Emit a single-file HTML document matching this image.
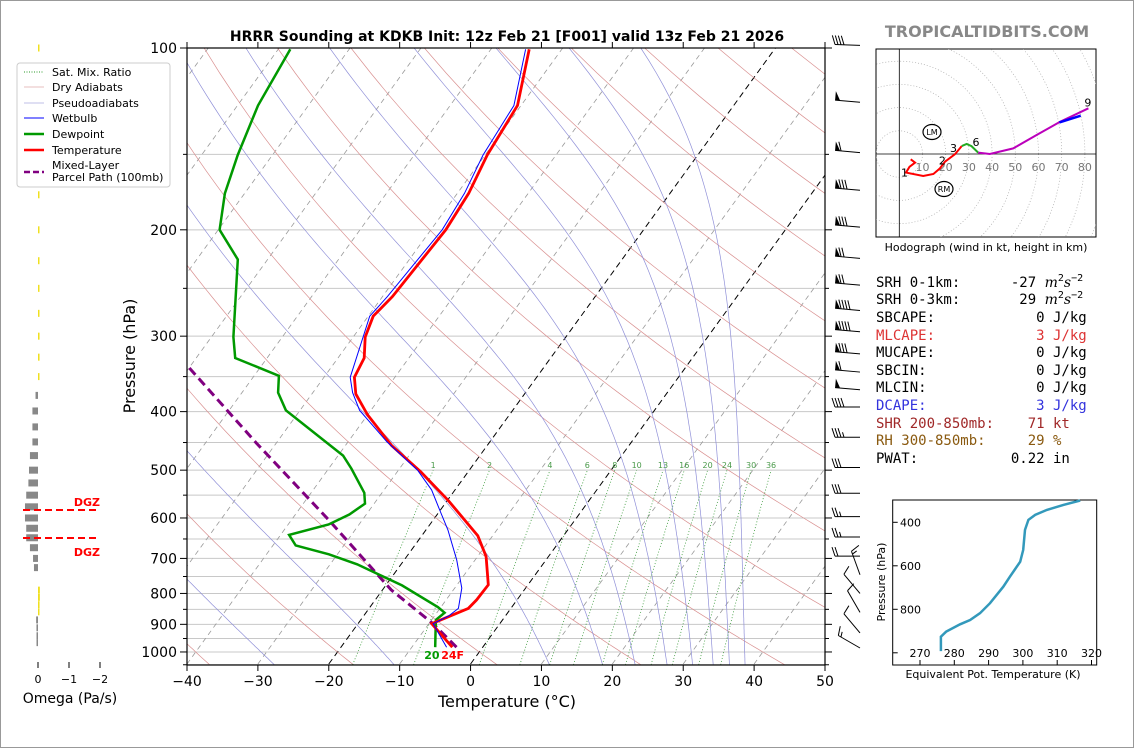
<!DOCTYPE html>
<html><head><meta charset="utf-8"><style>
body{margin:0;background:#fff;}
svg{display:block;font-family:"DejaVu Sans","Liberation Sans",sans-serif;}
.mono{font-family:"DejaVu Sans Mono","Liberation Mono",monospace;font-size:14px;}
</style></head><body>
<svg id="root" width="1134" height="748" viewBox="0 0 1134 748">
<rect x="0.5" y="0.5" width="1133" height="747" fill="#fff" stroke="#999"/>
<text x="507" y="41" text-anchor="middle" font-size="14" font-weight="bold">HRRR Sounding at KDKB Init: 12z Feb 21 [F001] valid 13z Feb 21 2026</text>
<text x="987" y="37" text-anchor="middle" font-size="16" font-weight="bold" fill="#888">TROPICALTIDBITS.COM</text>
<defs><clipPath id="plotclip"><rect x="187" y="48" width="638" height="617"/></clipPath>
<clipPath id="hodoclip"><rect x="876" y="49" width="220" height="188"/></clipPath></defs>
<g id="bg" clip-path="url(#plotclip)"></g>
<g id="prof" clip-path="url(#plotclip)"></g>
<rect x="187" y="48" width="638" height="617" fill="none" stroke="#000" stroke-width="1.2"/>
<g id="axes"></g>
<text x="507" y="707" text-anchor="middle" font-size="16">Temperature (°C)</text>
<text transform="translate(135,356) rotate(-90)" text-anchor="middle" font-size="16">Pressure (hPa)</text>
<g id="barbs" stroke="#000" stroke-width="1" fill="#000"></g>
<g id="omega"></g>
<text x="70" y="703" text-anchor="middle" font-size="14">Omega (Pa/s)</text>
<g>
<rect x="17" y="63" width="153" height="124" rx="3" fill="#fff" stroke="#ccc"/>
<line x1="24" y1="72" x2="44" y2="72" stroke="#2a9a2a" stroke-dasharray="1,1.5"/>
<text x="52" y="76" font-size="11">Sat. Mix. Ratio</text>
<line x1="24" y1="87" x2="44" y2="87" stroke="#d08080" stroke-width="0.6"/>
<text x="52" y="91" font-size="11">Dry Adiabats</text>
<line x1="24" y1="103" x2="44" y2="103" stroke="#8080d0" stroke-width="0.6"/>
<text x="52" y="107" font-size="11">Pseudoadiabats</text>
<line x1="24" y1="118" x2="44" y2="118" stroke="#0000ff" stroke-width="1"/>
<text x="52" y="122" font-size="11">Wetbulb</text>
<line x1="24" y1="134" x2="44" y2="134" stroke="#009900" stroke-width="2.5"/>
<text x="52" y="138" font-size="11">Dewpoint</text>
<line x1="24" y1="150" x2="44" y2="150" stroke="#ff0000" stroke-width="2.5"/>
<text x="52" y="154" font-size="11">Temperature</text>
<line x1="24" y1="172" x2="44" y2="172" stroke="#800080" stroke-width="2.5" stroke-dasharray="6,3"/>
<text x="52" y="169" font-size="11">Mixed-Layer</text>
<text x="52" y="181" font-size="11">Parcel Path (100mb)</text>
</g>
<g id="hodo"></g>
<text x="986" y="251" text-anchor="middle" font-size="11">Hodograph (wind in kt, height in km)</text>
<g class="mono">
<text x="876" y="287" xml:space="preserve">SRH 0-1km:      -27 <tspan font-style="italic" font-family="DejaVu Serif,serif">m</tspan><tspan font-size="10" dy="-6">2</tspan><tspan font-style="italic" dy="6" font-family="DejaVu Serif,serif">s</tspan><tspan font-size="10" dy="-6">−2</tspan></text>
<text x="876" y="304" xml:space="preserve">SRH 0-3km:       29 <tspan font-style="italic" font-family="DejaVu Serif,serif">m</tspan><tspan font-size="10" dy="-6">2</tspan><tspan font-style="italic" dy="6" font-family="DejaVu Serif,serif">s</tspan><tspan font-size="10" dy="-6">−2</tspan></text>
<text x="876" y="322" xml:space="preserve">SBCAPE:            0 J/kg</text>
<text x="876" y="340" xml:space="preserve" fill="#dd3333">MLCAPE:            3 J/kg</text>
<text x="876" y="357" xml:space="preserve">MUCAPE:            0 J/kg</text>
<text x="876" y="375" xml:space="preserve">SBCIN:             0 J/kg</text>
<text x="876" y="392" xml:space="preserve">MLCIN:             0 J/kg</text>
<text x="876" y="410" xml:space="preserve" fill="#3333dd">DCAPE:             3 J/kg</text>
<text x="876" y="428" xml:space="preserve" fill="#a02828">SHR 200-850mb:    71 kt</text>
<text x="876" y="445" xml:space="preserve" fill="#8a5a10">RH 300-850mb:     29 %</text>
<text x="876" y="463" xml:space="preserve">PWAT:           0.22 in</text>
</g>
<g id="thetae"></g>
</svg>
<script>
// ---------- sounding data ----------
const tempP = [100.5,124.5,150.4,174,200,258,278,301,326,351,374,405,455,503,561,642,695,774,820,847,898,982];
const tempT = [-54.6,-50.5,-49.7,-48.4,-47.9,-48.6,-49.3,-48.3,-46.3,-45.7,-43.8,-40,-33.5,-26.7,-19.9,-12.1,-8.8,-5.6,-5.7,-6.0,-9.6,-4.3];
const dewP = [100.5,124.5,150.4,174,200,224,301,326,349,372,398,473,497,545,568,592,615,640,666,689,716,776,843,861,885,931,982];
const dewT = [-88.3,-87.1,-84.9,-82.8,-79.8,-74.2,-66.9,-64.5,-56.5,-54.9,-52,-39.3,-36.8,-32.5,-31.3,-32.4,-34.3,-38.8,-36.8,-31.2,-26.2,-17.7,-10.4,-8.9,-9.4,-8.1,-6.7];
const wbP = [100.5,124.5,150.4,174,200,258,278,301,351,372,398,449,500,539,582,628,704,784,847,872,898,982];
const wbT = [-55.1,-51.0,-50.3,-49.0,-48.4,-49.3,-49.8,-48.6,-46.3,-44.4,-41.6,-34.5,-27.3,-23.3,-20.1,-16.9,-12.6,-9.0,-7.4,-8.0,-9.4,-5.1];
const parcelP = [982,898,789,604,451,335,250];
const parcelT = [-3.7,-9.4,-18.8,-34.8,-52.8,-70.6,-86];
const mixRatios = [1,2,4,6,8,10,13,16,20,24,30,36];
const isoTemps = [-120,-110,-100,-90,-80,-70,-60,-50,-40,-30,-20,-10,0,10,20,30,40,50];
const dryThetaC = [-40,-20,0,20,40,60,80,100,120,140,160,180,200,220,240];
const moistT1050 = [-70,-60,-50,-40,-27.6,-10.7,11.2,18.7,23.3,27.8,31.4,34.3,36.6,38.8];
const pTicks = [100,200,300,400,500,600,700,800,900,1000];
const tTicks = [-40,-30,-20,-10,0,10,20,30,40,50];
// wind barbs
const barbP = [99,123,149,172,198,223,247,272,295,321,344,368,393,441,495,546,597,645,694,745,800,860,930,985];
const barbSpd = [40,50,60,80,80,70,70,90,90,80,60,50,40,35,30,30,25,25,20,15,10,10,10,15];
const barbDir = [272,275,275,275,275,275,275,275,275,275,275,275,270,270,270,270,270,270,270,340,320,330,320,300];
// omega
const omegaP = [100,125,150,175,200,225,250,275,300,325,350,376,399,424,449,473,500,525,550,575,600,624,647,672,700,725,790,812,835,858,885,912,940,965];
const omegaV = [-0.02,-0.02,-0.02,-0.02,-0.02,-0.02,-0.02,-0.02,-0.05,-0.05,-0.03,0.08,0.18,0.18,0.18,0.26,0.29,0.31,0.38,0.42,0.42,0.38,0.38,0.26,0.16,0.13,-0.06,-0.06,-0.05,-0.04,0.06,0.05,0.04,0.03];
// hodograph
const hodoU = [4.9,6.8,4.4,2.9,10.3,14.7,17.5,19.7,24.0,26.9,29.0,31.1,34,39,49.1,59.2,69.3,81.5];
const hodoV = [-2.3,-3.7,-5.5,-8.0,-9.5,-8.6,-6.2,-3.3,-0.1,3.4,4.3,3.4,0.6,0,2.4,8.2,13.9,19.7];
const hodoSeg = [0,0,0,0,0,0,0,0,0,1,1,1,2,2,2,2,2,2];
const hodoBlueU = [69,78.2];
const hodoBlueV = [13.6,16.5];
// theta-e
const thP = [992,926,903,869,849,818,772,696,650,581,527,435,389,366,343,320,300];
const thK = [276.1,276.1,277.6,281.7,284.6,287.5,290.4,294.3,296.2,299.2,300.1,300.6,301.6,303.6,307,311.8,316.7];

const NS='http://www.w3.org/2000/svg';
function mk(tag,attrs,parent){const e=document.createElementNS(NS,tag);for(const k in attrs)e.setAttribute(k,attrs[k]);parent.appendChild(e);return e;}
const yP=p=>48+262.3*Math.log(p/100);
const xT=(T,y)=>187+(T+40)*7.0889+0.725*(664-y);
function pathFrom(ps,ts){return ps.map((p,i)=>{const y=yP(p);return (i?'L':'M')+xT(ts[i],y).toFixed(1)+','+y.toFixed(1);}).join('');}

const bg=document.getElementById('bg');
for(let p=100;p<=1050;p+=50){const y=yP(p);
 const l=mk('line',{x1:187,x2:825,y1:y,y2:y,stroke:'#c8c8c8','stroke-width':1},bg);
 
 }
isoTemps.forEach(T=>{const blk=(T===0||T===-20);
 const l=mk('line',{x1:xT(T,664),y1:664,x2:xT(T,48),y2:48,stroke:blk?'#000':'#999','stroke-width':blk?1:0.8,'stroke-dasharray':blk?'6,4':'5,4'},bg);
 
 });
dryThetaC.forEach(th=>{const thK=th+273.15;let d='';
 for(let p=1050;p>=100;p-=10){const T=thK*Math.pow(p/1000,0.2857)-273.15;const y=yP(p);d+=(d?'L':'M')+xT(T,y).toFixed(1)+','+y.toFixed(1);}
 const e=mk('path',{d:d,fill:'none',stroke:'#d99090','stroke-width':0.7},bg);
 
 });
function es(Tc){return 6.112*Math.exp(17.67*Tc/(Tc+243.5));}
moistT1050.forEach(t0=>{let T=t0+273.15;let d='';
 for(let p=1050;p>=100;p-=5){const y=yP(p);d+=(d?'L':'M')+xT(T-273.15,y).toFixed(1)+','+y.toFixed(1);
  const e=es(T-273.15);const rs=0.622*e/(p-e);
  const dTdp=(287.04*T+2.501e6*rs)/(p*(1005.7+2.501e6*2.501e6*rs*0.622/(287.04*T*T)));T-=dTdp*5;}
 const el=mk('path',{d:d,fill:'none',stroke:'#9090d8','stroke-width':0.7},bg);
 
 });
mixRatios.forEach(w=>{let d='';
 for(let p=1050;p>=500;p-=25){const e=w*p/(622+w);const L=Math.log(e/6.112);const Td=243.5*L/(17.67-L);const y=yP(p);d+=(d?'L':'M')+xT(Td,y).toFixed(1)+','+y.toFixed(1);}
 const el=mk('path',{d:d,fill:'none',stroke:'#3a9a3a','stroke-width':0.8,'stroke-dasharray':'1,2'},bg);
 
 
 const e=w*500/(622+w);const L=Math.log(e/6.112);const Td=243.5*L/(17.67-L);
 const t=mk('text',{x:xT(Td,yP(500)),y:yP(500)-2,'font-size':8,fill:'#4a9a4a','text-anchor':'middle'},bg);t.textContent=w;
 
 });
const prof=document.getElementById('prof');
let e;
e=mk('path',{d:pathFrom(parcelP,parcelT),fill:'none',stroke:'#800080','stroke-width':3,'stroke-dasharray':'9,5'},prof);


e=mk('path',{d:pathFrom(dewP,dewT),fill:'none',stroke:'#009900','stroke-width':2.5},prof);


e=mk('path',{d:pathFrom(tempP,tempT),fill:'none',stroke:'#ff0000','stroke-width':2.8},prof);


e=mk('path',{d:pathFrom(wbP,wbT),fill:'none',stroke:'#0000ff','stroke-width':1},prof);


{const yd=yP(dewP[dewP.length-1]);const xd=xT(dewT[dewT.length-1],yd);
 const t1=mk('text',{x:xd-11,y:yd+12,'font-size':11,'font-weight':'bold',fill:'#009900'},document.getElementById('root'));t1.textContent='20';
 
 
 const yt=yP(tempP[tempP.length-1]);const xt=xT(tempT[tempT.length-1],yt);
 const t2=mk('text',{x:xt-11,y:yt+12,'font-size':11,'font-weight':'bold',fill:'#ff0000'},document.getElementById('root'));t2.textContent='24F';
 
 }
const ax=document.getElementById('axes');
for(let p=100;p<=1050;p+=50){const y=yP(p);const maj=pTicks.includes(p);
 mk('line',{x1:maj?180:183,x2:187,y1:y,y2:y,stroke:'#000'},ax);
 mk('line',{x1:825,x2:maj?832:829,y1:y,y2:y,stroke:'#000'},ax);}
pTicks.forEach(p=>{const t=mk('text',{x:177,y:yP(p)+5,'font-size':14,'text-anchor':'end'},ax);t.textContent=p;
 
 });
tTicks.forEach(T=>{const x=187+(T+40)*7.0889;mk('line',{x1:x,x2:x,y1:665,y2:671,stroke:'#000'},ax);mk('line',{x1:x,x2:x,y1:42,y2:48,stroke:'#000'},ax);
 const t=mk('text',{x:x,y:686,'font-size':14,'text-anchor':'middle'},ax);t.textContent=(T<0?'−':'')+Math.abs(T);
 
 });
const bg2=document.getElementById('barbs');
barbP.forEach((p,i)=>{const y=yP(p);const bx=860;const a=barbDir[i]*Math.PI/180;
 const dx=Math.sin(a),dy=-Math.cos(a);const px=-dy,py=dx;const L=25;
 const tx=bx+dx*L,ty=y+dy*L;const g=mk('g',{},bg2);
 
 
 mk('line',{x1:bx,y1:y,x2:tx,y2:ty},g);
 let s=Math.round(barbSpd[i]/5)*5;let pos=0;
 while(s>=50){const x0=tx-dx*pos,y0=ty-dy*pos;const x1=tx-dx*(pos+5),y1=ty-dy*(pos+5);
  mk('polygon',{points:`${x0},${y0} ${x1},${y1} ${x0+px*9},${y0+py*9}`,stroke:'none'},g);pos+=6;s-=50;}
 while(s>=10){const x0=tx-dx*pos,y0=ty-dy*pos;mk('line',{x1:x0,y1:y0,x2:x0+px*9+dx*3,y2:y0+py*9+dy*3},g);pos+=3;s-=10;}
 if(s>=5){if(pos===0)pos=3;const x0=tx-dx*pos,y0=ty-dy*pos;mk('line',{x1:x0,y1:y0,x2:x0+px*5+dx*1.5,y2:y0+py*5+dy*1.5},g);}
});
const om=document.getElementById('omega');
[0,-1,-2].forEach(v=>{const x=38-v*31;mk('line',{x1:x,x2:x,y1:662,y2:668,stroke:'#000'},om);
 const t=mk('text',{x:x,y:683,'font-size':11,'text-anchor':'middle'},om);t.textContent=v===0?'0':'−'+Math.abs(v);
 
 });
omegaP.forEach((p,i)=>{const y=yP(p);const v=omegaV[i];const w=Math.max(1.5,Math.abs(v)*31);
 const r=mk('rect',{x:v>0?38-w:38,y:y-3.5,width:w,height:7,fill:v>0?'#888':'#f0e020'},om);
 
 });
[[510,502,'dgz-upper'],[538,552,'dgz-lower']].forEach(([y,ty,n])=>{
 const l=mk('line',{x1:23,x2:100,y1:y,y2:y,stroke:'#ff0000','stroke-width':2,'stroke-dasharray':'7,4'},om);
 
 
 const t=mk('text',{x:100,y:ty+4,'font-size':11,'font-weight':'bold',fill:'#ff0000','text-anchor':'end'},om);t.textContent='DGZ';
 
 });
const ho=document.getElementById('hodo');
const ox=899.3,oy=154,ks=2.32;
const hx=u=>ox+u*ks,hy=v=>oy-v*ks;
mk('rect',{x:876,y:49,width:220,height:188,fill:'#fff',stroke:'#000'},ho);
const hc=mk('g',{'clip-path':'url(#hodoclip)'},ho);
for(let r=10;r<=110;r+=10){mk('circle',{cx:ox,cy:oy,r:r*ks,fill:'none',stroke:'#aaa','stroke-width':0.7,'stroke-dasharray':'1,2'},hc);}
mk('line',{x1:ox,x2:ox,y1:49,y2:237,stroke:'#000','stroke-width':0.8},hc);
mk('line',{x1:876,x2:1096,y1:oy,y2:oy,stroke:'#000','stroke-width':0.8},hc);
for(let r=10;r<=80;r+=10){const t=mk('text',{x:hx(r),y:oy+17,'font-size':11,fill:'#777','text-anchor':'middle'},hc);t.textContent=r;
 
 }
const segCol=['#ff0000','#22aa22','#bb00bb'];
for(let s=0;s<3;s++){
 const idx=hodoU.map((u,i)=>i).filter(i=>hodoSeg[i]===s);
 let pts=idx.slice();const nxt=idx[idx.length-1]+1;if(nxt<hodoU.length)pts.push(nxt);
 const d=pts.map((i,k)=>(k?'L':'M')+hx(hodoU[i]).toFixed(1)+','+hy(hodoV[i]).toFixed(1)).join('');
 const e=mk('path',{d:d,fill:'none',stroke:segCol[s],'stroke-width':2},hc);
 
 }
e=mk('path',{d:'M'+hx(hodoBlueU[0])+','+hy(hodoBlueV[0])+'L'+hx(hodoBlueU[1])+','+hy(hodoBlueV[1]),stroke:'#0000ff','stroke-width':2.5},hc);


[['1',3,-5,4],['2',6,-1,-4],['3',8,-5,-2],['6',11,1,0],['9',17,-4,-2]].forEach(([lab,i,ddx,ddy])=>{
 const t=mk('text',{x:hx(hodoU[i])+ddx,y:hy(hodoV[i])+ddy,'font-size':11},hc);t.textContent=lab;
 
 });
[['LM',932,132],['RM',944,189]].forEach(([lab,x,y])=>{
 mk('ellipse',{cx:x,cy:y,rx:9,ry:7.5,fill:'#fff',stroke:'#000','stroke-width':1.2},hc);
 const t=mk('text',{x:x,y:y+3,'font-size':8,'text-anchor':'middle'},hc);t.textContent=lab;
 
 });
const te=document.getElementById('thetae');
const tx0=892.7,ty0=500,tw=204,th=165;
const ex=k=>920+(k-270)*3.43,ey=p=>522.3+(p-400)*0.2175;
mk('rect',{x:tx0,y:ty0,width:tw,height:th,fill:'#fff',stroke:'#000'},te);
[270,280,290,300,310,320].forEach(k=>{const t=mk('text',{x:ex(k),y:657,'font-size':11,'text-anchor':'middle'},te);t.textContent=k;
 
 
 mk('line',{x1:ex(k),x2:ex(k),y1:665,y2:660,stroke:'#000'},te);});
[400,600,800,1000].forEach(p=>{mk('line',{x1:tx0,x2:tx0+5,y1:ey(p),y2:ey(p),stroke:'#000'},te);
 if(p<1000){const t=mk('text',{x:900,y:ey(p)+4,'font-size':11},te);t.textContent=p;
 
 }});
e=mk('path',{d:thP.map((p,i)=>(i?'L':'M')+ex(thK[i]).toFixed(1)+','+ey(p).toFixed(1)).join(''),fill:'none',stroke:'#3399bb','stroke-width':2.5},te);


let t=mk('text',{x:993,y:678,'font-size':11,'text-anchor':'middle'},te);t.textContent='Equivalent Pot. Temperature (K)';


t=mk('text',{transform:'translate(885,582) rotate(-90)','font-size':11,'text-anchor':'middle'},te);t.textContent='Pressure (hPa)';


</script>
</body></html>
